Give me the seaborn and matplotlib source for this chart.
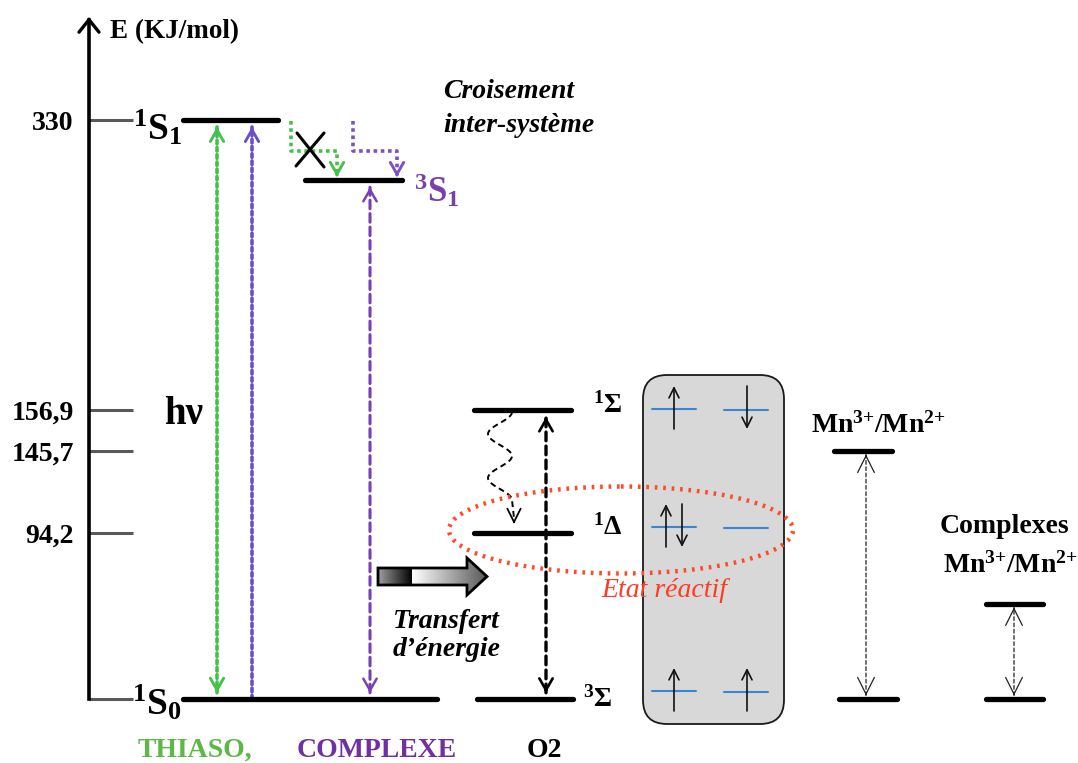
import numpy as np
import pandas as pd
import seaborn as sns
import matplotlib.pyplot as plt
import matplotlib.transforms as mtransforms
from matplotlib.patches import FancyBboxPatch, Ellipse, Polygon

# energy axis (kJ/mol)
tick_energy = [0, 94.2, 145.7, 156.9, 330]
tick_labels = ['', '94,2', '145,7', '156,9', '330']

# energy levels
level_names = ['1S1', '3S1', '1S0', '1Sigma', '1Delta', '3Sigma', 'Mn_hi', 'Mn_lo', 'Cx_hi', 'Cx_lo']
level_energy = [330, 294, 0, 156.9, 94.2, 0, 145.7, 0, 54, 0]

# vertical transitions (from -> to)
trans_names = ['thiaso', 'complexe_abs', 'complexe_T', 'o2', 'mn', 'cx']
trans_from = [0, 0, 0, 0, 0, 0]
trans_to = [330, 330, 294, 156.9, 145.7, 54]

# --- layout (pixels of a 1078x763 picture) ---
W, H = 1078, 763
level_x0 = [183, 305, 183, 474, 474, 477, 834, 839, 986, 986]
level_x1 = [278, 402, 437, 571, 571, 573, 892, 897, 1043, 1043]
trans_x = [217, 252, 370, 546, 866, 1014]
trans_style = [
    dict(color='#45c04a', ls=(0, (1, 1)), lw=2.6, heads=(1, 1), gap=(4.5, 5)),
    dict(color='#6a4fc9', ls=(0, (1, 1)), lw=2.6, heads=(0, 1), gap=(0, 5)),
    dict(color='#7440b4', ls=(0, (2.8, 1.6)), lw=2.2, heads=(1, 1), gap=(4.5, 5)),
    dict(color='black', ls=(0, (2.6, 1.6)), lw=2.4, heads=(1, 1), gap=(4.5, 5)),
    dict(color='#222222', ls=(0, (3, 2)), lw=0.9, heads=(1, 1), gap=(2.5, 2.5)),
    dict(color='#222222', ls=(0, (3, 2)), lw=0.9, heads=(1, 1), gap=(2.5, 2.5)),
]

# piecewise energy -> picture height (diagram is not to scale)
knot_E = [-300, 0, 94.2, 145.7, 156.9, 330, 700]
knot_h = [-464.6, 64, 230, 312, 353, 643, 1262.8]


def fwd(e):
    return np.interp(e, knot_E, knot_h)


def inv(h):
    return np.interp(h, knot_h, knot_E)


sns.set_theme(style='white')
plt.rcParams['font.family'] = ['Liberation Serif', 'DejaVu Serif']
plt.rcParams['font.weight'] = 'bold'
plt.rcParams['mathtext.default'] = 'regular'
plt.rcParams['text.color'] = 'black'

fig = plt.figure(figsize=(W / 100, H / 100), dpi=100)
ax = fig.add_axes([0, 0, 1, 1])
pix = mtransforms.Affine2D().scale(1 / W, -1 / H).translate(0, 1) + fig.transFigure

# levels drawn through seaborn
rows = []
for n, e, a, b in zip(level_names, level_energy, level_x0, level_x1):
    rows.append(dict(level=n, x=a, E=e))
    rows.append(dict(level=n, x=b, E=e))
levels = pd.DataFrame(rows)
sns.lineplot(data=levels, x='x', y='E', units='level', estimator=None, sort=False,
             color='black', lw=3.8, legend=False, ax=ax, zorder=3)

ax.set_yscale('function', functions=(fwd, inv))
ax.set_xlim(0, W)
ax.set_ylim(inv(0), inv(H))
ax.set_autoscale_on(False)
ax.set_xlabel('')
ax.set_ylabel('')

# energy axis
for s in ['top', 'right', 'bottom']:
    ax.spines[s].set_visible(False)
ax.spines['left'].set_position(('data', 89))
ax.spines['left'].set_bounds(0, inv(H - 22))
ax.spines['left'].set_linewidth(2.6)
ax.spines['left'].set_color('black')
ax.set_xticks([])
ax.set_yticks(tick_energy)
ax.set_yticklabels(tick_labels)
ax.tick_params(axis='y', direction='in', length=31.5, width=2.2, color='#595959',
               labelcolor='black', pad=11, labelsize=20, left=True)
for lab in ax.get_yticklabels():
    lab.set_fontweight('bold')
ax.annotate('', xy=(89, 1 - 17 / H), xycoords=('data', 'axes fraction'),
            xytext=(0, -3), textcoords='offset points',
            arrowprops=dict(arrowstyle='->,head_length=0.75,head_width=0.6',
                            lw=2.4, color='black', shrinkA=0, shrinkB=0))
ax.text(110, 38, 'E (KJ/mol)', transform=pix, fontsize=19.5, ha='left', va='baseline')


def head(xy, coords, direction, color, lw, gap, hl=0.7, hw=0.4):
    ax.annotate('', xy=xy, xycoords=coords, xytext=(0, -direction * (gap + 2)),
                textcoords='offset points',
                arrowprops=dict(arrowstyle=f'->,head_length={hl},head_width={hw}',
                                color=color, lw=lw, shrinkA=0, shrinkB=gap))


# transitions
for x, e0, e1, st in zip(trans_x, trans_from, trans_to, trans_style):
    g0, g1 = st['gap']
    ax.annotate('', xy=(x, e1), xytext=(x, e0),
                arrowprops=dict(arrowstyle='-', color=st['color'], lw=st['lw'],
                                ls=st['ls'], shrinkA=g0, shrinkB=g1), zorder=2)
    thin = st['lw'] < 1.5
    hl, hw = (1.0, 0.5) if thin else (0.7, 0.4)
    hlw = st['lw'] if thin else st['lw'] * 0.8
    if st['heads'][1]:
        head((x, e1), 'data', 1, st['color'], hlw, g1, hl, hw)
    if st['heads'][0]:
        head((x, e0), 'data', -1, st['color'], hlw, g0, hl, hw)

# inter-system crossing
ax.plot([291, 291, 337, 337], [121, 151, 151, 171], transform=pix, color='#45c04a',
        lw=2.6, ls=(0, (1, 1)))
head((337, 177), pix, -1, '#45c04a', 2.1, 0)
ax.plot([353, 353, 397, 397], [121, 151, 151, 171], transform=pix, color='#7a52c4',
        lw=2.6, ls=(0, (1, 1)))
head((397, 177), pix, -1, '#7a52c4', 2.1, 0)
ax.plot([297, 324], [133, 167], transform=pix, color='black', lw=2.2)
ax.plot([296, 324], [166, 133], transform=pix, color='black', lw=2.2)
ax.text(443, 98, 'Croisement', transform=pix, fontsize=20, style='italic')
ax.text(443, 132, 'inter-système', transform=pix, fontsize=20, style='italic')

# level labels
ax.text(182, 140, '$^{1}$S$_{1}$', transform=pix, fontsize=27, ha='right')
ax.text(182, 715, '$^{1}$S$_{0}$', transform=pix, fontsize=27, ha='right')
ax.text(414, 202, '$^{3}$S$_{1}$', transform=pix, fontsize=25, color='#7a3fa8')
ax.text(164, 424, 'hν', transform=pix, fontsize=28)
ax.text(593, 413, '$^{1}$Σ', transform=pix, fontsize=20)
ax.text(593, 535, '$^{1}$Δ', transform=pix, fontsize=20)
ax.text(583, 707, '$^{3}$Σ', transform=pix, fontsize=20)

# relaxation 1Σ -> 1Δ (wavy)
yy = np.linspace(412, 500, 80)
xx = 500 + 12 * np.cos(np.pi * (yy - 412) / 22)
ax.plot(np.r_[xx, 514], np.r_[yy, 518], transform=pix, color='black', lw=1.4, ls=(0, (3, 2)))
head((514, 524), pix, -1, 'black', 1.3, 0, 0.8, 0.4)

# orbitals box
box = FancyBboxPatch((643, 375), 141, 349, boxstyle='round,pad=0,rounding_size=24',
                     transform=pix, fc='#d8d8d8', ec='#1a1a1a', lw=1.3, zorder=1)
ax.add_patch(box)
orb_y = [409, 527, 691]
left_spins = [['up'], ['up', 'down'], ['up']]
right_spins = [['down'], [], ['up']]
for y, ls_, rs_ in zip(orb_y, left_spins, right_spins):
    ax.plot([652, 696], [y, y], transform=pix, color='#3d86cf', lw=1.5, zorder=2)
    ax.plot([724, 768], [y + 1, y + 1], transform=pix, color='#3d86cf', lw=1.5, zorder=2)
    for spins, xc in ((ls_, 674), (rs_, 747)):
        offs = [-8, 8] if len(spins) == 2 else [0]
        for sp, o in zip(spins, offs):
            a, b = (y + 20, y - 23) if sp == 'up' else (y - 23, y + 20)
            ax.annotate('', xy=(xc + o, b), xycoords=pix, xytext=(xc + o, a), textcoords=pix,
                        arrowprops=dict(arrowstyle='->,head_length=0.6,head_width=0.3',
                                        color='#111111', lw=1.2, shrinkA=0, shrinkB=0),
                        zorder=3)

# reactive state
ax.add_patch(Ellipse((621, 530), 344, 87, transform=pix, fill=False, ec='#ff4a2a',
                     lw=3.2, ls=(0, (0.6, 1.3)), zorder=6))
ax.text(601, 597, 'Etat réactif', transform=pix, fontsize=20, style='italic',
        fontweight='normal', color='#ff3a22', zorder=6)

# energy transfer arrow
arrow_pts = [(378, 568), (467, 568), (467, 558), (487, 576.5), (467, 595), (467, 585), (378, 585)]
poly = Polygon(arrow_pts, closed=True, transform=pix, fill=False, ec='black', lw=2, zorder=5)
ax.add_patch(poly)
shade = np.r_[np.linspace(0.62, 0.02, 34), np.linspace(1.0, 0.35, 75)]
im = ax.imshow(shade[None, :], cmap='gray', vmin=0, vmax=1, extent=(378, 487, 595, 558),
               transform=pix, aspect='auto', interpolation='bilinear', zorder=4)
im.set_clip_path(poly)
ax.text(393, 628, 'Transfert', transform=pix, fontsize=20, style='italic')
ax.text(393, 656, 'd’énergie', transform=pix, fontsize=20, style='italic')

# Mn labels
mn_label = 'Mn$^{3{+}}$/Mn$^{2{+}}$'
ax.text(811, 433, mn_label, transform=pix, fontsize=20)
ax.text(940, 533, 'Complexes', transform=pix, fontsize=20)
ax.text(943, 573, mn_label, transform=pix, fontsize=20)

# species labels
ax.text(138, 757, 'THIASO,', transform=pix, fontsize=20, color='#5cb847')
ax.text(297, 757, 'COMPLEXE', transform=pix, fontsize=20, color='#7030a0')
ax.text(527, 757, 'O2', transform=pix, fontsize=20)

ax.set_xlim(0, W)
ax.set_ylim(inv(0), inv(H))
fig.savefig('out.png', dpi=100)
